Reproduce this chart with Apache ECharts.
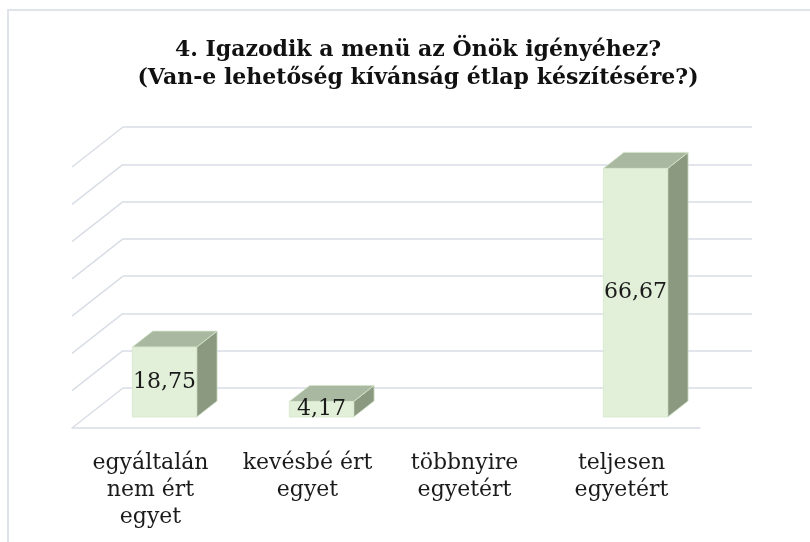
<!DOCTYPE html>
<html>
<head>
<meta charset="utf-8">
<script src="https://cdn.jsdelivr.net/npm/echarts@6/dist/echarts.min.js"></script>
<style>
  html, body { margin: 0; padding: 0; background: #fff; }
  #chart { width: 810px; height: 542px; }
</style>
</head>
<body>
<div id="chart"></div>
<script>
// adatok
var categories = ['egyáltalán\nnem ért\negyet', 'kevésbé ért\negyet', 'többnyire\negyetért', 'teljesen\negyetért']
var values = [18.75, 4.17, null, 66.67]
var gridValues = [0, 10, 20, 30, 40, 50, 60, 70]

var DEPTH_X = 51 // padló mélysége (px)
var DEPTH_Y = 40
var BAR_FRONT = 0.275 // oszlop eleje a mélységben
var BAR_BACK = 0.675
var BAR_WIDTH = 0.41

var FONT = 'DejaVu Serif'
var GRID_COLOR = '#d9dde5'

var chartDom = document.getElementById('chart')
var myChart = echarts.init(chartDom)

function wallItem(params, api) {
  var p = api.coord([0, api.value(1)])
  var x0 = p[0] - api.size([1, 0])[0] / 2
  return {
    type: 'line',
    shape: { x1: x0, y1: p[1], x2: x0 + DEPTH_X, y2: p[1] - DEPTH_Y },
    style: { stroke: GRID_COLOR, lineWidth: 1.5 }
  }
}

function barItem(params, api) {
  var v = api.value(1)
  if (v == null || isNaN(v)) return
  var base = api.coord([api.value(0), 0])
  var top = api.coord([api.value(0), v])
  var w = api.size([1, 0])[0] * BAR_WIDTH
  var fx = base[0] + DEPTH_X * BAR_FRONT
  var fy = -DEPTH_Y * BAR_FRONT
  var dx = DEPTH_X * (BAR_BACK - BAR_FRONT)
  var dy = DEPTH_Y * (BAR_BACK - BAR_FRONT)
  var l = fx - w / 2, r = fx + w / 2
  var yb = base[1] + fy, yt = top[1] + fy
  return {
    type: 'group',
    children: [
      {
        type: 'polygon',
        shape: { points: [[r, yb], [r + dx, yb - dy], [r + dx, yt - dy], [r, yt]] },
        style: { fill: '#8a9980', stroke: '#d6e6cc', lineWidth: 0.8 }
      },
      {
        type: 'polygon',
        shape: { points: [[l, yt], [r, yt], [r + dx, yt - dy], [l + dx, yt - dy]] },
        style: { fill: '#a9b8a0', stroke: '#d6e6cc', lineWidth: 0.8 }
      },
      {
        type: 'rect',
        shape: { x: l, y: yt, width: w, height: yb - yt },
        style: { fill: '#e2efd9', stroke: '#d6e6cc', lineWidth: 0.8 }
      },
      {
        type: 'text',
        x: fx,
        y: (yt + yb) / 2,
        style: {
          text: v.toFixed(2).replace('.', ','),
          fill: '#1a1a1a',
          font: '22px "' + FONT + '"',
          align: 'center',
          verticalAlign: 'middle'
        }
      }
    ]
  }
}

var option = {
  animation: false,
  title: {
    text: '4. Igazodik a menü az Önök igényéhez?\n(Van-e lehetőség kívánság étlap készítésére?)',
    left: 413,
    top: 31,
    textAlign: 'center',
    textStyle: {
      fontFamily: FONT,
      fontWeight: 'bold',
      fontSize: 22,
      lineHeight: 28,
      color: '#111'
    }
  },
  graphic: [
    {
      type: 'rect',
      shape: { x: 8, y: 10, width: 830, height: 560 },
      style: { fill: 'none', stroke: '#dfe3ea', lineWidth: 2 },
      silent: true
    }
  ],
  grid: [
    { left: 123, top: 127, width: 629, height: 261 }, // hátsó fal
    { left: 72, top: 167, width: 628, height: 261 } // elülső sík
  ],
  xAxis: [
    { type: 'category', gridIndex: 0, data: categories, show: false },
    {
      type: 'category',
      gridIndex: 1,
      data: categories,
      axisLine: { lineStyle: { color: GRID_COLOR, width: 1.5 } },
      axisTick: { show: false },
      axisLabel: {
        interval: 0,
        margin: 22,
        fontFamily: FONT,
        fontSize: 22,
        lineHeight: 27,
        color: '#1a1a1a'
      }
    }
  ],
  yAxis: [
    {
      type: 'value',
      gridIndex: 0,
      min: 0,
      max: 70,
      interval: 10,
      axisLine: { show: false },
      axisTick: { show: false },
      axisLabel: { show: false },
      splitLine: { lineStyle: { color: GRID_COLOR, width: 1.5 } }
    },
    {
      type: 'value',
      gridIndex: 1,
      min: 0,
      max: 70,
      interval: 10,
      show: false,
      splitLine: { show: false }
    }
  ],
  series: [
    {
      type: 'custom',
      xAxisIndex: 1,
      yAxisIndex: 1,
      renderItem: wallItem,
      data: gridValues.map(function (v) { return [0, v] }),
      silent: true
    },
    {
      type: 'custom',
      xAxisIndex: 1,
      yAxisIndex: 1,
      renderItem: barItem,
      data: values.map(function (v, i) { return [i, v] }),
      silent: true
    }
  ]
}
option && myChart.setOption(option)
</script>
</body>
</html>
